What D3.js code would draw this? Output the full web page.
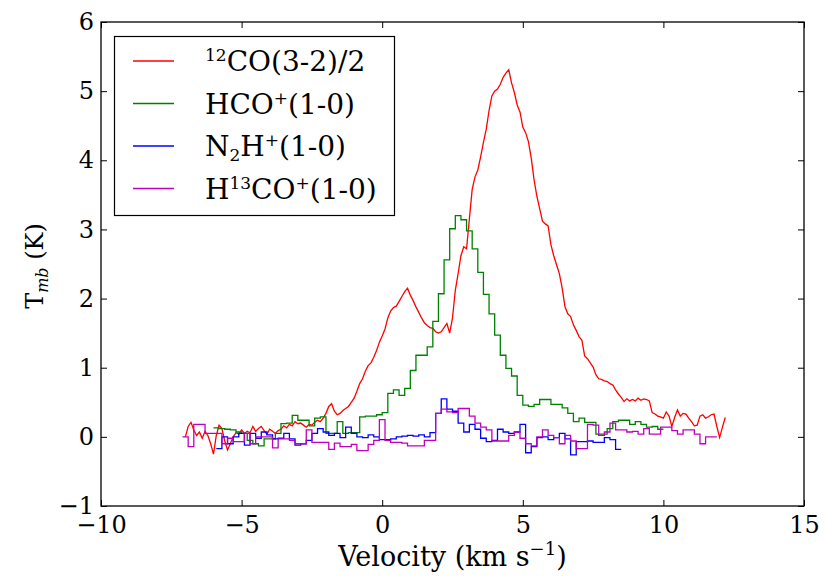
<!DOCTYPE html>
<html lang="en">
<head>
<meta charset="UTF-8">
<title>Spectra</title>
<script src="https://d3js.org/d3.v7.min.js"></script>
<style>
  body { margin: 0; background: #fff; }
  svg text { font-family: "DejaVu Serif", serif; fill: #000; }
  .tick line { stroke: #000; stroke-width: 1; }
</style>
</head>
<body>
<svg id="chart"></svg>
<script>
// 12CO(3-2)/2, 0.1 km/s grid starting at -7.0
const coStart = -7.0, coStep = 0.1;
const coValues = [
  0.00, 0.15, 0.21, 0.10, 0.02, 0.07, -0.02, 0.08, 0.02, -0.10,
  -0.25, 0.02, 0.17, 0.12, -0.06, -0.19, -0.10, 0.00, 0.06, 0.04,
  0.10, 0.05, 0.08, 0.06, 0.15, 0.08, 0.12, 0.15, 0.09, 0.04,
  0.11, 0.08, 0.05, 0.09, 0.11, 0.16, 0.13, 0.18, 0.16, 0.22,
  0.19, 0.20, 0.17, 0.14, 0.18, 0.17, 0.21, 0.24, 0.22, 0.27,
  0.34, 0.44, 0.48, 0.37, 0.32, 0.34, 0.38, 0.41, 0.44, 0.50,
  0.56, 0.66, 0.77, 0.84, 0.95, 1.03, 1.07, 1.15, 1.25, 1.37,
  1.46, 1.56, 1.72, 1.82, 1.87, 1.89, 1.96, 2.03, 2.10, 2.15,
  2.05, 1.97, 1.88, 1.80, 1.72, 1.65, 1.61, 1.58, 1.57, 1.52,
  1.50, 1.52, 1.58, 1.64, 1.50, 1.72, 2.12, 2.36, 2.62, 2.75,
  2.72, 3.15, 3.58, 3.76, 3.86, 4.05, 4.26, 4.45, 4.72, 4.93,
  5.00, 5.03, 5.10, 5.20, 5.26, 5.31, 5.12, 4.98, 4.80, 4.70,
  4.48, 4.40, 4.27, 4.03, 3.72, 3.48, 3.30, 3.12, 3.08, 3.05,
  2.78, 2.62, 2.49, 2.36, 2.15, 1.88, 1.78, 1.74, 1.62, 1.54,
  1.45, 1.40, 1.17, 1.13, 1.07, 1.01, 0.90, 0.84, 0.83, 0.81,
  0.80, 0.77, 0.75, 0.68, 0.62, 0.57, 0.51, 0.55, 0.52, 0.54,
  0.52, 0.56, 0.53, 0.55, 0.54, 0.52, 0.35, 0.33, 0.30, 0.29,
  0.27, 0.36, 0.30, 0.15, 0.28, 0.39, 0.30, 0.34, 0.33, 0.27,
  0.22, 0.16, 0.17, 0.30, 0.32, 0.27, 0.29, 0.32, 0.33, 0.15,
  -0.01, 0.14, 0.28
];

// HCO+(1-0), channel centres every 0.2 km/s from -5.9
const hcoStart = -5.9, hcoStep = 0.2;
const hcoValues = [
  0.13, 0.12, 0.11, 0.10, 0.07, 0.05, -0.05, -0.10, -0.13, -0.03,
  -0.03, 0.05, 0.19, 0.20, 0.31, 0.24, 0.24, 0.16, 0.27, 0.29,
  0.05, 0.05, 0.22, 0.05, 0.06, 0.06, 0.29, 0.30, 0.30, 0.32,
  0.35, 0.63, 0.68, 0.60, 0.70, 0.96, 1.18, 1.18, 1.30, 1.67,
  2.07, 2.56, 3.01, 3.20, 3.14, 2.98, 2.72, 2.38, 2.06, 1.78,
  1.47, 1.18, 0.99, 0.88, 0.60, 0.46, 0.44, 0.47, 0.54, 0.54,
  0.47, 0.47, 0.42, 0.34, 0.22, 0.27, 0.21, 0.21, 0.04, 0.04,
  0.12, 0.22, 0.24, 0.24, 0.18, 0.22, 0.18, 0.14, 0.15, 0.11
];

// N2H+(1-0), channel centres every 0.2 km/s from -5.8
const n2hStart = -5.8, n2hStep = 0.2;
const n2hValues = [
  -0.17, 0.00, -0.10, 0.00, 0.05, -0.12, 0.05, -0.02, 0.07, 0.03,
  -0.03, -0.02, 0.05, -0.03, -0.12, -0.10, -0.05, 0.05, 0.12, 0.07,
  0.02, 0.05, -0.01, 0.14, 0.05, 0.00, -0.01, 0.03, 0.00, -0.04,
  -0.04, -0.03, 0.00, 0.01, 0.02, 0.01, 0.03, 0.00, 0.06, 0.34,
  0.55, 0.40, 0.37, 0.20, 0.07, 0.18, 0.11, -0.02, -0.07, -0.05,
  0.11, 0.07, 0.05, 0.07, 0.18, -0.23, -0.14, -0.01, 0.00, -0.04,
  -0.01, 0.05, -0.03, -0.26, -0.07, -0.07, -0.06, -0.08, -0.08, -0.01,
  -0.04, -0.18
];

// H13CO+(1-0), channel centres every 0.2 km/s from -7.0
const h13coStart = -7.0, h13coStep = 0.2;
const h13coValues = [
  0.00, -0.14, 0.18, 0.18, 0.05, 0.05, 0.05, -0.10, -0.02, -0.07,
  -0.07, 0.05, -0.10, 0.00, 0.00, 0.00, -0.16, -0.03, -0.03, -0.05,
  -0.10, -0.10, 0.10, -0.08, -0.08, -0.08, -0.18, -0.09, -0.14, -0.14,
  -0.11, -0.20, -0.20, -0.11, -0.05, 0.25, -0.05, -0.08, -0.08, -0.09,
  -0.13, -0.13, -0.13, -0.05, -0.05, 0.34, 0.40, 0.36, 0.35, 0.41,
  0.41, 0.30, 0.20, 0.14, 0.10, -0.06, -0.06, -0.06, 0.02, 0.07,
  -0.02, -0.10, -0.13, 0.00, 0.10, 0.02, -0.01, -0.10, 0.02, -0.06,
  -0.17, -0.17, 0.18, 0.17, 0.02, 0.07, 0.20, 0.10, 0.10, 0.07,
  0.08, 0.04, 0.12, 0.04, 0.04, 0.14, 0.14, 0.09, 0.04, 0.10,
  0.10, 0.04, -0.10, 0.00, 0.00
];

const seriesColors = ["#ff0000", "#008000", "#0000ff", "#bf00bf"];
// legend labels: [text, "sup" | "sub" | ""]
const seriesLabels = [
  [["12", "sup"], ["CO(3-2)/2", ""]],
  [["HCO", ""], ["+", "sup"], ["(1-0)", ""]],
  [["N", ""], ["2", "sub"], ["H", ""], ["+", "sup"], ["(1-0)", ""]],
  [["H", ""], ["13", "sup"], ["CO", ""], ["+", "sup"], ["(1-0)", ""]]
];

const xTicks = [-10, -5, 0, 5, 10, 15];
const yTicks = [-1, 0, 1, 2, 3, 4, 5, 6];

const width = 825, height = 577;
const margin = { top: 22, right: 21, bottom: 71, left: 101 };
const w = width - margin.left - margin.right;
const h = height - margin.top - margin.bottom;
const FONT = "DejaVu Serif";

const svg = d3.select("#chart")
  .attr("width", width).attr("height", height)
  .attr("font-family", FONT);
const g = svg.append("g").attr("transform", `translate(${margin.left},${margin.top})`);

const x = d3.scaleLinear().domain([-10, 15]).range([0, w]);
const y = d3.scaleLinear().domain([-1, 6]).range([h, 0]);

function toPoints(start, step, values) {
  return values.map((v, i) => [start + i * step, v]);
}

// steps-mid: first and last channel are half a channel wide
function stepPoints(pts, step) {
  const first = pts[0], last = pts[pts.length - 1];
  return [[first[0] - step / 2, first[1]], ...pts, [last[0] + step / 2, last[1]]];
}

const series = [
  { pts: toPoints(coStart, coStep, coValues), curve: d3.curveLinear },
  { pts: stepPoints(toPoints(hcoStart, hcoStep, hcoValues), hcoStep), curve: d3.curveStep },
  { pts: stepPoints(toPoints(n2hStart, n2hStep, n2hValues), n2hStep), curve: d3.curveStep },
  { pts: stepPoints(toPoints(h13coStart, h13coStep, h13coValues), h13coStep), curve: d3.curveStep }
];

series.forEach((s, i) => {
  const line = d3.line().x(d => x(d[0])).y(d => y(d[1])).curve(s.curve);
  g.append("path")
    .datum(s.pts)
    .attr("fill", "none")
    .attr("stroke", seriesColors[i])
    .attr("stroke-width", 1.3)
    .attr("d", line);
});

// axes, ticks pointing inward on all four sides
const tickFont = "24px";
function styleAxis(a) {
  a.select(".domain").remove();
  a.attr("font-family", FONT).attr("font-size", null);
  a.selectAll("text").style("font-size", tickFont);
}

g.append("g")
  .attr("transform", `translate(0,${h})`)
  .call(d3.axisBottom(x).tickValues(xTicks).tickSizeInner(-6).tickSizeOuter(0).tickPadding(10))
  .call(styleAxis);

g.append("g")
  .call(d3.axisTop(x).tickValues(xTicks).tickSizeInner(-6).tickSizeOuter(0).tickFormat(""))
  .call(styleAxis);

g.append("g")
  .call(d3.axisLeft(y).tickValues(yTicks).tickSizeInner(-6).tickSizeOuter(0).tickPadding(7).tickFormat(d3.format("d")))
  .call(styleAxis);

g.append("g")
  .attr("transform", `translate(${w},0)`)
  .call(d3.axisRight(y).tickValues(yTicks).tickSizeInner(-6).tickSizeOuter(0).tickFormat(""))
  .call(styleAxis);

g.append("rect")
  .attr("width", w).attr("height", h)
  .attr("fill", "none").attr("stroke", "#000").attr("stroke-width", 1.3);

// axis labels
const xl = svg.append("text")
  .attr("x", margin.left + w / 2).attr("y", 566)
  .attr("text-anchor", "middle").style("font-size", "27px");
xl.append("tspan").text("Velocity (km s");
xl.append("tspan").attr("dy", -11).style("font-size", "18px").text("\u22121");
xl.append("tspan").attr("dy", 11).text(")");

const yl = svg.append("text")
  .attr("transform", `translate(43,266) rotate(-90)`)
  .attr("text-anchor", "middle").style("font-size", "24px");
yl.append("tspan").text("T");
yl.append("tspan").attr("dy", 5).style("font-size", "16px").style("font-style", "italic").text("mb");
yl.append("tspan").attr("dy", -5).text(" (K)");

// legend
const legend = svg.append("g");
legend.append("rect")
  .attr("x", 114.5).attr("y", 36.5).attr("width", 280).attr("height", 179)
  .attr("fill", "#fff").attr("stroke", "#000").attr("stroke-width", 1.2);

seriesLabels.forEach((parts, i) => {
  const ly = 61 + i * 42.5;
  legend.append("line")
    .attr("x1", 133).attr("x2", 174).attr("y1", ly).attr("y2", ly)
    .attr("stroke", seriesColors[i]).attr("stroke-width", 1.3);
  const t = legend.append("text").attr("x", 205).attr("y", ly + 10).style("font-size", "28px");
  let shift = 0;
  parts.forEach(([txt, kind]) => {
    const target = kind === "sup" ? -10 : kind === "sub" ? 5 : 0;
    const ts = t.append("tspan").attr("dy", target - shift).text(txt);
    if (kind) ts.style("font-size", "17px");
    shift = target;
  });
});
</script>
</body>
</html>
